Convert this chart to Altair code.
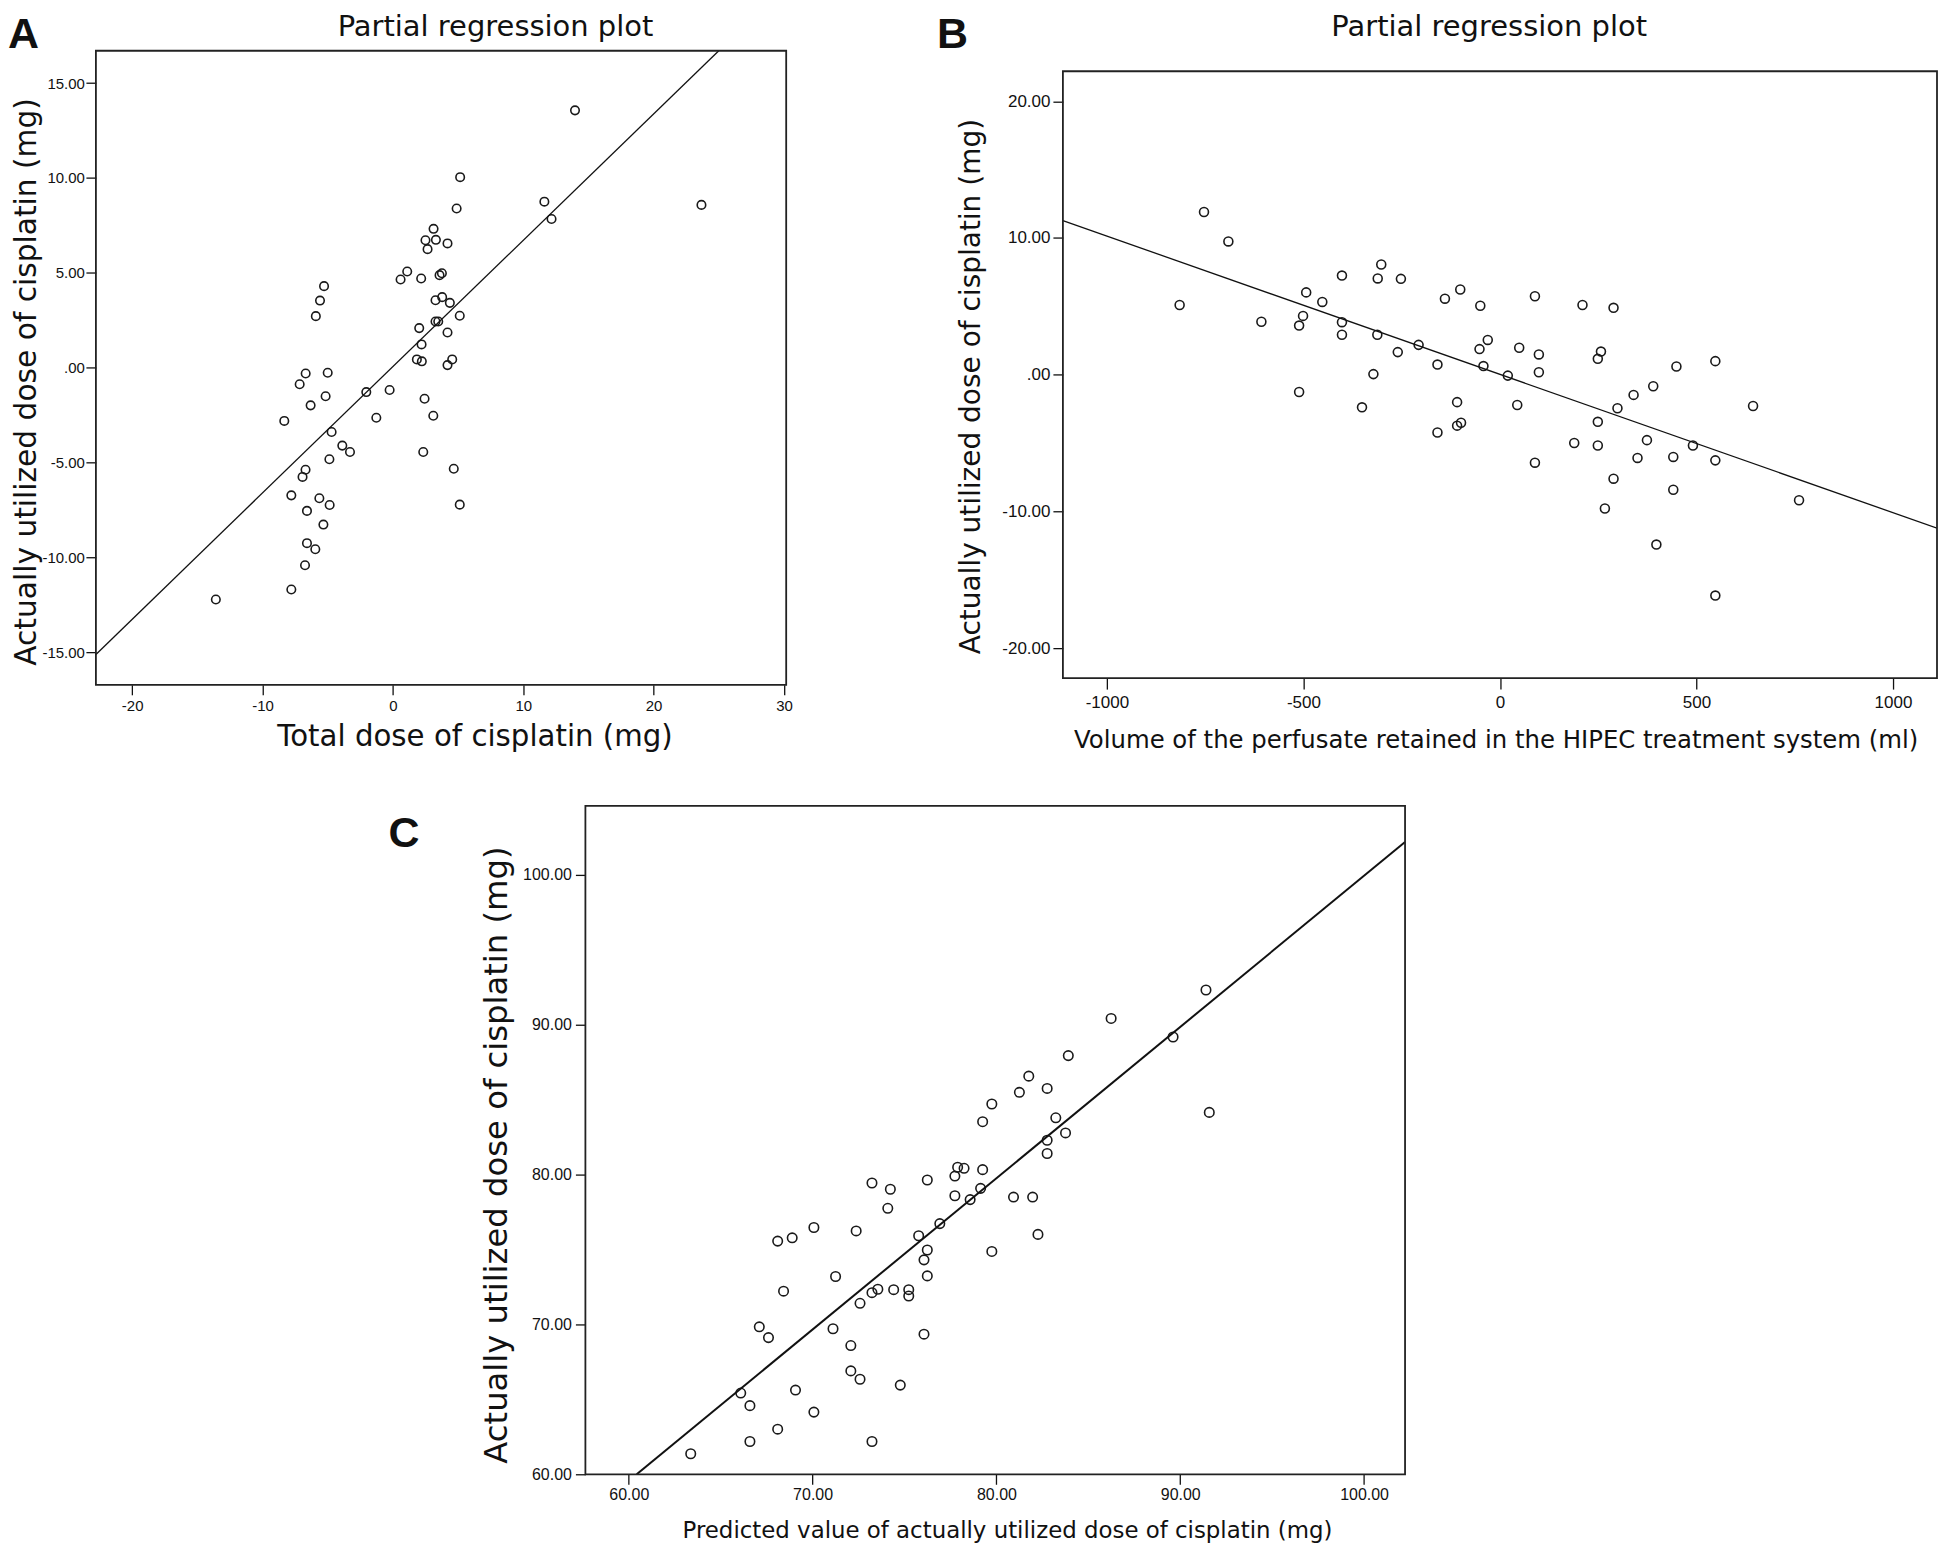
import altair as alt
import pandas as pd

# ---------------- Panel A data ----------------
a_x = [13.97, 5.16, 11.62, 23.67, 4.89, 12.17, 3.12, 2.50, 3.30, 4.19, 2.66, 1.10,
       0.59, 2.17, 3.76, 3.58, -5.28, -5.59, 3.27, 3.78, 4.37, -5.91, 5.13, 3.27,
       3.48, 2.02, 4.19, 2.20, 1.84, 2.22, 4.55, 4.19, -6.69, -5.00, -7.15, -2.04,
       -0.25, -5.16, -6.31, 2.43, -8.33, -1.27, 3.10, -4.70, -3.88, -3.29, -4.87,
       2.33, -6.70, 4.67, -6.93, -7.79, -5.64, -6.59, -4.85, 5.13, -5.33, -6.59,
       -5.95, -6.74, -7.79, -13.58]
a_y = [13.56, 10.04, 8.75, 8.58, 8.39, 7.84, 7.32, 6.72, 6.74, 6.55, 6.25, 5.07,
       4.65, 4.70, 4.98, 4.88, 4.30, 3.54, 3.56, 3.72, 3.42, 2.72, 2.74, 2.44,
       2.44, 2.09, 1.86, 1.23, 0.44, 0.34, 0.44, 0.14, -0.30, -0.26, -0.87, -1.28,
       -1.17, -1.50, -1.98, -1.63, -2.80, -2.63, -2.53, -3.38, -4.10, -4.44, -4.82,
       -4.44, -5.37, -5.32, -5.75, -6.72, -6.87, -7.54, -7.23, -7.21, -8.26, -9.24,
       -9.56, -10.40, -11.68, -12.21]
a_line_x = [-22.78, 25.0]
a_line_y = [-15.1, 16.7]
a_xdom = [-22.78, 30.17]
a_ydom = [-16.7, 16.7]
a_xticks = [-20, -10, 0, 10, 20, 30]
a_yticks = [-15, -10, -5, 0, 5, 10, 15]

# ---------------- Panel B data ----------------
b_x = [-753, -691, -815, -607, -511, -501, -493, -452, -402, -402, -402, -511,
       -302, -311, -252, -312, -260, -207, -322, -351, -159, -159, -140, -101,
       -50, -52, -31, -42, -109, -109, -99, 20, 89, 49, 99, 99, 44, 89, 189, 210,
       289, 257, 249, 249, 249, 299, 289, 267, 340, 350, 374, 390, 398, 441, 441,
       449, 491, 548, 548, 548, 644, 761]
b_y = [11.9, 9.75, 5.1, 3.87, 3.59, 4.30, 6.02, 5.32, 7.25, 3.84, 2.92, -1.27,
       8.06, 7.04, 7.01, 2.92, 1.65, 2.18, 0.04, -2.39, 0.74, -4.23, 5.56, 6.23,
       5.04, 1.87, 2.54, 0.63, -2.01, -3.73, -3.52, -0.07, 5.74, 1.97, 1.48, 0.18,
       -2.22, -6.44, -5.0, 5.1, 4.89, 1.69, 1.16, -3.45, -5.18, -2.46, -7.61,
       -9.79, -1.48, -6.09, -4.79, -0.85, -12.43, -6.02, -8.42, 0.60, -5.18, 0.99,
       -6.27, -16.16, -2.29, -9.19]
b_line_x = [-1112, 1112]
b_line_y = [11.27, -11.23]
b_xdom = [-1112, 1112]
b_ydom = [-22.2, 22.2]
b_xticks = [-1000, -500, 0, 500, 1000]
b_yticks = [-20, -10, 0, 10, 20]

# ---------------- Panel C data ----------------
c_x = [63.37, 66.09, 66.59, 66.59, 67.10, 67.60, 68.10, 68.10, 68.42, 68.89, 69.07,
       70.07, 70.07, 71.11, 71.25, 72.08, 72.08, 72.37, 72.58, 72.58, 73.23, 73.23,
       73.55, 73.23, 74.09, 74.23, 74.41, 74.77, 75.23, 75.23, 75.77, 76.06, 76.24,
       76.24, 76.06, 76.24, 76.92, 77.74, 77.74, 77.89, 78.24, 78.57, 79.14, 79.25,
       79.25, 79.75, 79.75, 80.93, 81.25, 81.76, 81.97, 82.26, 82.76, 82.76, 82.76,
       83.23, 83.76, 83.91, 86.24, 89.61, 91.40, 91.58]
c_y = [61.37, 65.42, 64.58, 62.19, 69.84, 69.12, 63.01, 75.56, 72.22, 75.78, 65.62,
       76.47, 64.15, 69.71, 73.20, 68.59, 66.90, 76.24, 71.41, 66.34, 79.44, 72.12,
       72.35, 62.19, 77.75, 79.02, 72.32, 65.95, 72.32, 71.90, 75.92, 74.31, 74.97,
       73.24, 69.35, 79.64, 76.73, 78.59, 79.90, 80.49, 80.42, 78.33, 79.08, 80.33,
       83.53, 84.71, 74.87, 78.50, 85.49, 86.57, 78.50, 76.01, 85.75, 82.29, 81.41,
       83.79, 82.78, 87.94, 90.42, 89.18, 92.32, 84.15]
c_line_x = [60.43, 102.23]
c_line_y = [60.0, 102.2]
c_xdom = [57.64, 102.23]
c_ydom = [60.0, 104.6]
c_xticks = [60, 70, 80, 90, 100]
c_yticks = [60, 70, 80, 90, 100]

TITLE_FONT = "DejaVu Sans"
TICK_FONT = "Liberation Sans"
INK = "#111111"

INT_EXPR = "replace(format(datum.value, 'd'), '\u2212', '-')"
DEC_EXPR = "datum.value == 0 ? '.00' : replace(format(datum.value, '.2f'), '\u2212', '-')"


def text_layer(s, x, y, size, font, weight="normal", align="center"):
    return alt.Chart(pd.DataFrame({"t": [s]})).mark_text(
        font=font, fontSize=size, fontWeight=weight, align=align,
        baseline="alphabetic", color=INK
    ).encode(text="t:N", x=alt.value(x), y=alt.value(y))


def anchor_layer(x, y):
    # invisible layout anchor that reserves room above/left of the panel
    return alt.Chart(pd.DataFrame({"a": [0]})).mark_point(
        opacity=0, size=1
    ).encode(x=alt.value(x), y=alt.value(y))


def make_panel(px, py, lx, ly, xdom, ydom, width, height, yrange,
               xticks, yticks, xexpr, yexpr, xcfg, ycfg,
               pt_size, line_w, extra_layers):
    xs = alt.Scale(domain=xdom, nice=False, zero=False)
    ys = alt.Scale(domain=ydom, range=yrange, nice=False, zero=False)
    xaxis = alt.Axis(values=xticks, labelExpr=xexpr, grid=False, domain=False,
                     tickSize=xcfg["tick"], tickColor=INK, tickWidth=1.3,
                     labelPadding=xcfg["pad"], labelFont=TICK_FONT,
                     labelFontSize=xcfg["lsize"], labelColor=INK,
                     labelFlush=False, labelOverlap=False,
                     title=xcfg["title"], titleFont=TITLE_FONT,
                     titleFontSize=xcfg["tsize"], titleFontWeight="normal",
                     titleColor=INK, titleX=xcfg["tx"], titleY=xcfg["ty"],
                     titleAlign="center", titleBaseline="alphabetic")
    yaxis = alt.Axis(values=yticks, labelExpr=yexpr, grid=False, domain=False,
                     tickSize=ycfg["tick"], tickColor=INK, tickWidth=1.3,
                     labelPadding=ycfg["pad"], labelFont=TICK_FONT,
                     labelFontSize=ycfg["lsize"], labelColor=INK,
                     labelFlush=False, labelOverlap=False,
                     title=ycfg["title"], titleFont=TITLE_FONT,
                     titleFontSize=ycfg["tsize"], titleFontWeight="normal",
                     titleColor=INK, titleX=ycfg["tx"], titleY=ycfg["ty"],
                     titleAngle=270, titleAlign="center",
                     titleBaseline="alphabetic")
    points = alt.Chart(pd.DataFrame({"x": px, "y": py})).mark_point(
        filled=False, color="#1a1a1a", size=pt_size, strokeWidth=1.6, opacity=1
    ).encode(x=alt.X("x:Q", scale=xs, axis=xaxis),
             y=alt.Y("y:Q", scale=ys, axis=yaxis))
    line = alt.Chart(pd.DataFrame({"x": lx, "y": ly})).mark_line(
        color=INK, strokeWidth=line_w, clip=True
    ).encode(x=alt.X("x:Q", scale=xs), y=alt.Y("y:Q", scale=ys))
    frame = alt.Chart(pd.DataFrame({"f": [0]})).mark_rect(
        fillOpacity=0, stroke="#222222", strokeWidth=1.8
    ).encode(x=alt.X(datum=xdom[0], scale=xs), x2=alt.X2(datum=xdom[1]),
             y=alt.Y(datum=ydom[0], scale=ys), y2=alt.Y2(datum=ydom[1]))
    layers = [points, line, frame] + extra_layers
    return alt.layer(*layers).properties(width=width, height=height)


panel_a = make_panel(
    a_x, a_y, a_line_x, a_line_y, a_xdom, a_ydom, 691, 634.7, [634.7, 0],
    a_xticks, a_yticks, INT_EXPR, DEC_EXPR,
    dict(tick=10, pad=4, lsize=15, title="Total dose of cisplatin (mg)",
         tsize=29.3, tx=379, ty=61),
    dict(tick=10, pad=1.5, lsize=15, title="Actually utilized dose of cisplatin (mg)",
         tsize=29.7, tx=-60, ty=331),
    72, 1.3,
    [text_layer("Partial regression plot", 400, -14.3, 29, TITLE_FONT),
     text_layer("A", -88, -2.5, 43, TICK_FONT, weight="bold", align="left"),
     anchor_layer(-87.5, -40.8)])

panel_b = make_panel(
    b_x, b_y, b_line_x, b_line_y, b_xdom, b_ydom, 875, 628, [628, 20.5],
    b_xticks, b_yticks, INT_EXPR, DEC_EXPR,
    dict(tick=11, pad=5.5, lsize=17,
         title="Volume of the perfusate retained in the HIPEC treatment system (ml)",
         tsize=24.4, tx=433.2, ty=69.7),
    dict(tick=10, pad=3, lsize=17, title="Actually utilized dose of cisplatin (mg)",
         tsize=28, tx=-83, ty=335.7),
    80, 1.3,
    [text_layer("Partial regression plot", 426.7, -15, 29, TITLE_FONT),
     text_layer("B", -126, -2.5, 43, TICK_FONT, weight="bold", align="left")])

panel_c = make_panel(
    c_x, c_y, c_line_x, c_line_y, c_xdom, c_ydom, 820.5, 669, [669, 0],
    c_xticks, c_yticks, DEC_EXPR, DEC_EXPR,
    dict(tick=10, pad=2.5, lsize=16,
         title="Predicted value of actually utilized  dose of cisplatin (mg)",
         tsize=22.9, tx=422, ty=63),
    dict(tick=10, pad=4, lsize=16, title="Actually utilized dose of cisplatin (mg)",
         tsize=32.3, tx=-79, ty=349),
    90, 2.0,
    [text_layer("C", -197, 41, 43, TICK_FONT, weight="bold", align="left")])

spacer = alt.Chart(pd.DataFrame({"s": [0]})).mark_point(opacity=0).encode(
    x=alt.value(0), y=alt.value(0)).properties(width=292.5, height=10)

top_row = alt.hconcat(panel_a, panel_b, spacing=144)
bottom_row = alt.hconcat(spacer, panel_c, spacing=0)

chart = alt.vconcat(top_row, bottom_row, spacing=50).properties(
    padding={"left": 0, "top": 0, "right": 0, "bottom": 4}, background="white"
).configure_view(strokeWidth=0)

chart.save("out.html", embed_options={"renderer": "svg", "actions": False})
